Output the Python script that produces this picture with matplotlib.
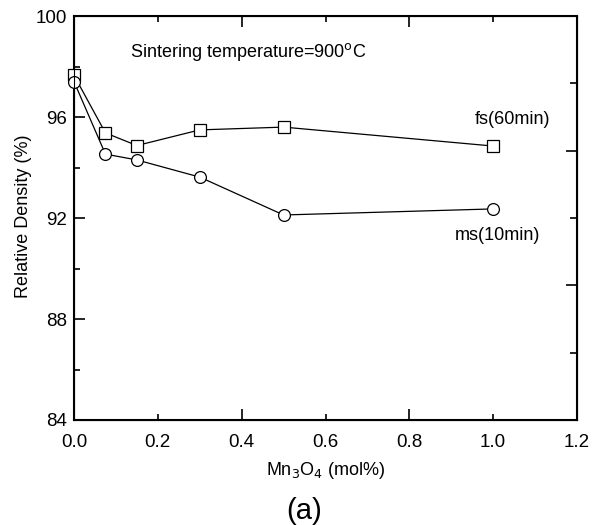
import matplotlib
matplotlib.use("Agg")
import matplotlib.pyplot as plt
import numpy as np

plt.rcParams['font.family'] = ['Liberation Sans', 'DejaVu Sans']

mn3o4 = [0.0, 0.075, 0.15, 0.3, 0.5, 1.0]
fs_density = [97.65, 95.37, 94.87, 95.49, 95.6, 94.85]
ms_density = [97.4, 94.53, 94.3, 93.62, 92.12, 92.36]

fig = plt.figure(figsize=(5.94, 5.25), dpi=100)
ax = fig.add_axes([0.1246, 0.2, 0.8468, 0.7695])

ax.plot(mn3o4, fs_density, color='black', lw=0.9, marker='s', ms=8.5,
        mfc='white', mec='black', mew=0.9, clip_on=False, zorder=3)
ax.plot(mn3o4, ms_density, color='black', lw=0.9, marker='o', ms=8.5,
        mfc='white', mec='black', mew=0.9, clip_on=False, zorder=3)

ax.set_xlim(0, 1.2)
ax.set_ylim(84, 100)
# long ticks every 0.4, short ones in between, all labelled
ax.set_xticks([0.0, 0.4, 0.8, 1.2], labels=['0.0', '0.4', '0.8', '1.2'])
ax.set_xticks([0.2, 0.6, 1.0], labels=['0.2', '0.6', '1.0'], minor=True)
ax.set_yticks([84, 88, 92, 96, 100])
ax.set_yticks([86, 90, 94, 98], minor=True)

for side in ax.spines.values():
    side.set_linewidth(1.5)

ax.tick_params(axis='both', which='both', labelsize=13.5, direction='in', width=1.2)
ax.tick_params(axis='y', which='both', pad=5)
ax.tick_params(axis='x', which='both', pad=10, top=True)
ax.tick_params(axis='both', which='major', length=8)
ax.tick_params(axis='both', which='minor', length=4)

# right side ticks on a different spacing, no labels
ax2 = ax.twinx()
ax2.set_ylim(0, 6)
ax2.set_yticks([2, 4])
ax2.set_yticks([1, 3, 5], minor=True)
ax2.set_yticklabels([])
ax2.tick_params(axis='y', which='major', direction='in', length=8, width=1.2)
ax2.tick_params(axis='y', which='minor', direction='in', length=5, width=1.2)

ax.text(0.134, 98.57, 'Sintering temperature=900$^{\\mathrm{o}}$C', fontsize=13,
        va='center', ha='left')
ax.text(0.955, 95.9, 'fs(60min)', fontsize=13, va='center', ha='left')
ax.text(0.908, 91.3, 'ms(10min)', fontsize=13, va='center', ha='left')

ax.set_xlabel('Mn$_3$O$_4$ (mol%)', fontsize=13)
ax.xaxis.set_label_coords(0.5, -0.1)
ax.set_ylabel('Relative Density (%)', fontsize=13)
ax.yaxis.set_label_coords(-0.083, 0.505)
fig.text(0.512, 0.027, '(a)', fontsize=21, ha='center', va='center')

fig.savefig('out.png', dpi=100)
